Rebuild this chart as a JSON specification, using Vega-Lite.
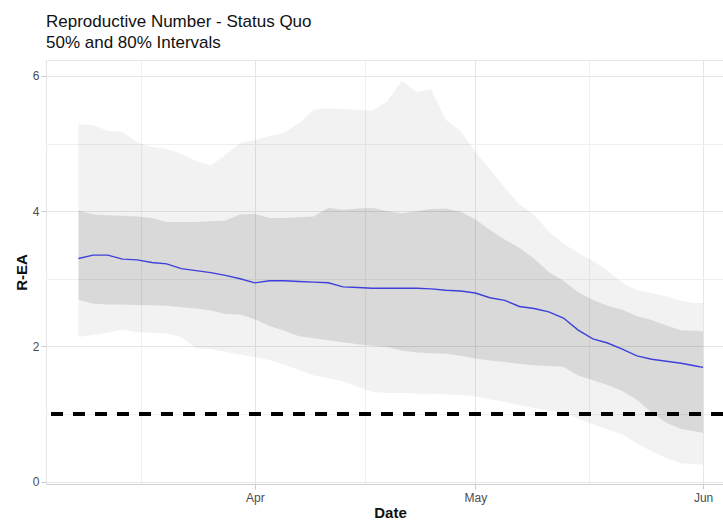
{
  "$schema": "https://vega.github.io/schema/vega-lite/v6.json",
  "width": 677,
  "height": 424,
  "autosize": {"type": "none"},
  "padding": {"left": 46, "top": 60, "right": 0, "bottom": 39},
  "background": "white",
  "config": {
    "font": "Liberation Sans",
    "view": {"stroke": "#e6e6e6", "strokeWidth": 1},
    "axis": {
      "labelFont": "Liberation Sans",
      "labelFontSize": 12,
      "labelColor": "#4d4d4d",
      "titleFont": "Liberation Sans",
      "titleFontSize": 15,
      "titleFontWeight": "bold",
      "titleColor": "#111111",
      "tickColor": "#cccccc",
      "tickSize": 5,
      "labelPadding": 2,
      "gridWidth": 1
    }
  },
  "title": {
    "text": ["Reproductive Number - Status Quo", "\u200550% and 80% Intervals"],
    "anchor": "start",
    "frame": "group",
    "fontSize": 17,
    "fontWeight": "normal",
    "font": "Liberation Sans",
    "color": "#111111",
    "lineHeight": 21,
    "offset": 8
  },
  "data": {
    "values": [
      {"date": "2020-03-08T00:00:00", "hi80": 5.29, "hi50": 4.01, "med": 3.30, "lo50": 2.69, "lo80": 2.14},
      {"date": "2020-03-10T00:00:00", "hi80": 5.27, "hi50": 3.95, "med": 3.35, "lo50": 2.63, "lo80": 2.17},
      {"date": "2020-03-12T00:00:00", "hi80": 5.19, "hi50": 3.94, "med": 3.35, "lo50": 2.62, "lo80": 2.20},
      {"date": "2020-03-14T00:00:00", "hi80": 5.17, "hi50": 3.93, "med": 3.29, "lo50": 2.62, "lo80": 2.25},
      {"date": "2020-03-16T00:00:00", "hi80": 5.02, "hi50": 3.92, "med": 3.28, "lo50": 2.61, "lo80": 2.21},
      {"date": "2020-03-18T00:00:00", "hi80": 4.95, "hi50": 3.90, "med": 3.24, "lo50": 2.61, "lo80": 2.20},
      {"date": "2020-03-20T00:00:00", "hi80": 4.92, "hi50": 3.84, "med": 3.22, "lo50": 2.60, "lo80": 2.19},
      {"date": "2020-03-22T00:00:00", "hi80": 4.85, "hi50": 3.84, "med": 3.15, "lo50": 2.58, "lo80": 2.14},
      {"date": "2020-03-24T00:00:00", "hi80": 4.74, "hi50": 3.84, "med": 3.12, "lo50": 2.56, "lo80": 1.97},
      {"date": "2020-03-26T00:00:00", "hi80": 4.68, "hi50": 3.85, "med": 3.09, "lo50": 2.53, "lo80": 1.96},
      {"date": "2020-03-28T00:00:00", "hi80": 4.83, "hi50": 3.86, "med": 3.05, "lo50": 2.48, "lo80": 1.92},
      {"date": "2020-03-30T00:00:00", "hi80": 5.01, "hi50": 3.95, "med": 3.00, "lo50": 2.47, "lo80": 1.88},
      {"date": "2020-04-01T00:00:00", "hi80": 5.05, "hi50": 3.96, "med": 2.94, "lo50": 2.40, "lo80": 1.84},
      {"date": "2020-04-03T00:00:00", "hi80": 5.11, "hi50": 3.90, "med": 2.97, "lo50": 2.30, "lo80": 1.80},
      {"date": "2020-04-05T00:00:00", "hi80": 5.16, "hi50": 3.90, "med": 2.97, "lo50": 2.23, "lo80": 1.73},
      {"date": "2020-04-07T00:00:00", "hi80": 5.30, "hi50": 3.91, "med": 2.96, "lo50": 2.15, "lo80": 1.65},
      {"date": "2020-04-09T00:00:00", "hi80": 5.50, "hi50": 3.92, "med": 2.95, "lo50": 2.12, "lo80": 1.57},
      {"date": "2020-04-11T00:00:00", "hi80": 5.52, "hi50": 4.05, "med": 2.94, "lo50": 2.09, "lo80": 1.53},
      {"date": "2020-04-13T00:00:00", "hi80": 5.51, "hi50": 4.02, "med": 2.88, "lo50": 2.06, "lo80": 1.48},
      {"date": "2020-04-15T00:00:00", "hi80": 5.50, "hi50": 4.04, "med": 2.87, "lo50": 2.03, "lo80": 1.40},
      {"date": "2020-04-17T00:00:00", "hi80": 5.49, "hi50": 4.05, "med": 2.86, "lo50": 2.01, "lo80": 1.33},
      {"date": "2020-04-19T00:00:00", "hi80": 5.62, "hi50": 4.00, "med": 2.86, "lo50": 1.99, "lo80": 1.31},
      {"date": "2020-04-21T00:00:00", "hi80": 5.93, "hi50": 3.97, "med": 2.86, "lo50": 1.94, "lo80": 1.31},
      {"date": "2020-04-23T00:00:00", "hi80": 5.76, "hi50": 4.00, "med": 2.86, "lo50": 1.91, "lo80": 1.30},
      {"date": "2020-04-25T00:00:00", "hi80": 5.80, "hi50": 4.03, "med": 2.85, "lo50": 1.90, "lo80": 1.30},
      {"date": "2020-04-27T00:00:00", "hi80": 5.35, "hi50": 4.04, "med": 2.83, "lo50": 1.89, "lo80": 1.29},
      {"date": "2020-04-29T00:00:00", "hi80": 5.18, "hi50": 3.99, "med": 2.82, "lo50": 1.86, "lo80": 1.28},
      {"date": "2020-05-01T00:00:00", "hi80": 4.88, "hi50": 3.88, "med": 2.79, "lo50": 1.82, "lo80": 1.26},
      {"date": "2020-05-03T00:00:00", "hi80": 4.62, "hi50": 3.72, "med": 2.72, "lo50": 1.79, "lo80": 1.22},
      {"date": "2020-05-05T00:00:00", "hi80": 4.35, "hi50": 3.58, "med": 2.68, "lo50": 1.77, "lo80": 1.18},
      {"date": "2020-05-07T00:00:00", "hi80": 4.10, "hi50": 3.46, "med": 2.59, "lo50": 1.74, "lo80": 1.13},
      {"date": "2020-05-09T00:00:00", "hi80": 3.95, "hi50": 3.30, "med": 2.56, "lo50": 1.72, "lo80": 1.09},
      {"date": "2020-05-11T00:00:00", "hi80": 3.70, "hi50": 3.10, "med": 2.51, "lo50": 1.71, "lo80": 1.05},
      {"date": "2020-05-13T00:00:00", "hi80": 3.52, "hi50": 2.97, "med": 2.42, "lo50": 1.70, "lo80": 1.01},
      {"date": "2020-05-15T00:00:00", "hi80": 3.38, "hi50": 2.80, "med": 2.24, "lo50": 1.57, "lo80": 0.93},
      {"date": "2020-05-17T00:00:00", "hi80": 3.27, "hi50": 2.69, "med": 2.11, "lo50": 1.50, "lo80": 0.85},
      {"date": "2020-05-19T00:00:00", "hi80": 3.12, "hi50": 2.60, "med": 2.05, "lo50": 1.43, "lo80": 0.77},
      {"date": "2020-05-21T00:00:00", "hi80": 2.94, "hi50": 2.54, "med": 1.96, "lo50": 1.34, "lo80": 0.70},
      {"date": "2020-05-23T00:00:00", "hi80": 2.83, "hi50": 2.45, "med": 1.86, "lo50": 1.21, "lo80": 0.56},
      {"date": "2020-05-25T00:00:00", "hi80": 2.79, "hi50": 2.39, "med": 1.81, "lo50": 1.02, "lo80": 0.45},
      {"date": "2020-05-27T00:00:00", "hi80": 2.74, "hi50": 2.31, "med": 1.78, "lo50": 0.87, "lo80": 0.35},
      {"date": "2020-05-29T00:00:00", "hi80": 2.67, "hi50": 2.24, "med": 1.75, "lo50": 0.78, "lo80": 0.27},
      {"date": "2020-05-31T00:00:00", "hi80": 2.64, "hi50": 2.23, "med": 1.71, "lo50": 0.74, "lo80": 0.26},
      {"date": "2020-06-01T00:00:00", "hi80": 2.64, "hi50": 2.22, "med": 1.69, "lo50": 0.72, "lo80": 0.25}
    ]
  },
  "encoding": {
    "x": {
      "field": "date",
      "type": "temporal",
      "title": "Date",
      "scale": {
        "domain": [
          {"year": 2020, "month": 3, "date": 3, "hours": 14},
          {"year": 2020, "month": 6, "date": 3, "hours": 17}
        ],
        "nice": false
      },
      "axis": {
        "values": [
          {"year": 2020, "month": 3, "date": 16, "hours": 12},
          {"year": 2020, "month": 4, "date": 1},
          {"year": 2020, "month": 4, "date": 16},
          {"year": 2020, "month": 5, "date": 1},
          {"year": 2020, "month": 5, "date": 16, "hours": 12},
          {"year": 2020, "month": 6, "date": 1}
        ],
        "labelExpr": "date(datum.value) == 1 ? timeFormat(datum.value, '%b') : ''",
        "gridColor": {"condition": {"test": "date(datum.value) == 1", "value": "#e6e6e6"}, "value": "#f0f0f0"},
        "tickOpacity": {"condition": {"test": "date(datum.value) == 1", "value": 1}, "value": 0},
        "domainColor": "#cfcfcf",
        "labelPadding": 3,
        "titlePadding": 2,
        "titleX": 344
      }
    }
  },
  "layer": [
    {
      "mark": {"type": "area", "color": "#000000", "opacity": 0.05},
      "encoding": {
        "y": {
          "field": "lo80",
          "type": "quantitative",
          "title": "R-EA",
          "scale": {"domain": [-0.035, 6.235], "nice": false, "zero": false},
          "axis": {
            "values": [0, 1, 2, 3, 4, 5, 6],
            "format": "d",
            "labelExpr": "datum.value % 2 == 0 ? datum.label : ''",
            "gridColor": {"condition": {"test": "datum.value % 2 == 0", "value": "#e6e6e6"}, "value": "#f0f0f0"},
            "tickOpacity": {"condition": {"test": "datum.value % 2 == 0", "value": 1}, "value": 0},
            "domain": false,
            "titlePadding": 3
          }
        },
        "y2": {"field": "hi80"}
      }
    },
    {
      "mark": {"type": "area", "color": "#000000", "opacity": 0.1},
      "encoding": {
        "y": {"field": "lo50", "type": "quantitative"},
        "y2": {"field": "hi50"}
      }
    },
    {
      "mark": {"type": "line", "color": "#3f3fd9", "strokeWidth": 1.4},
      "encoding": {
        "y": {"field": "med", "type": "quantitative"}
      }
    },
    {
      "mark": {"type": "rule", "color": "#000000", "strokeWidth": 3.5, "strokeDash": [12, 10]},
      "encoding": {
        "y": {"datum": 1},
        "x": null
      }
    }
  ]
}
